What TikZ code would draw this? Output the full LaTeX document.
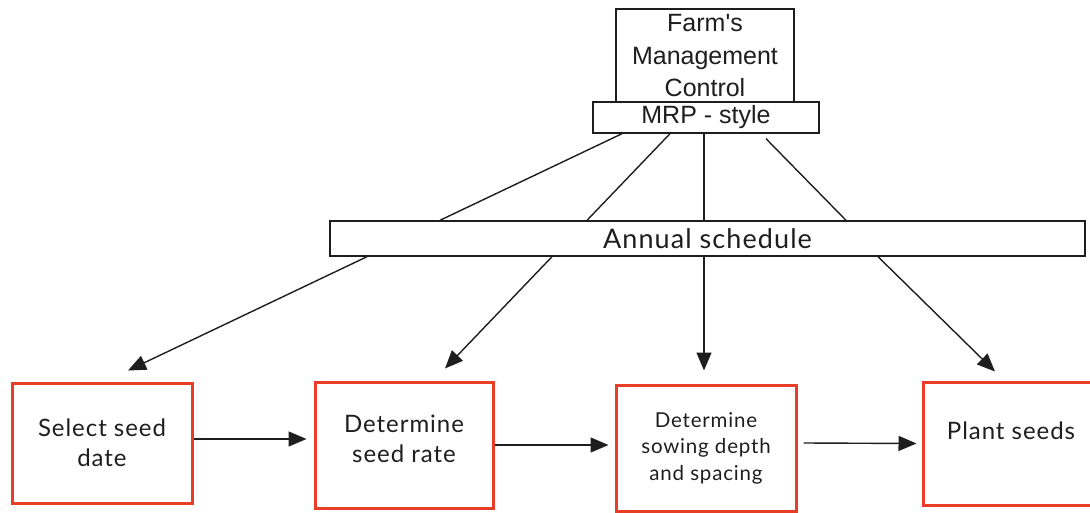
\documentclass[tikz,border=0pt]{standalone}
\usepackage{fontspec}
\newfontfamily\headfont{Liberation Sans}
\newfontfamily\boxfont{Lato}[LetterSpace=4]
\usetikzlibrary{arrows.meta}
\definecolor{boxred}{RGB}{232,62,40}
\definecolor{ink}{RGB}{30,30,30}
\tikzset{
  plainbox/.style={draw=ink, line width=1.4pt, fill=white, inner sep=0pt, align=center, text=ink},
  stepbox/.style={draw=boxred, line width=3pt, inner sep=0pt, align=center, text=ink,
    font=\boxfont\fontsize{24}{30.5}\selectfont},
  steptext/.style={text=ink, align=center, inner sep=0pt, font=\boxfont\fontsize{24}{30.5}\selectfont},
  link/.style={draw=ink, line width=1.4pt},
  flow/.style={link, -{Triangle[length=18pt,width=15pt]}}
}
\begin{document}
\begin{tikzpicture}[x=1pt,y=-1pt]
\useasboundingbox (0,0) rectangle (1090,513);
% management levels
\node[plainbox, minimum width=178pt, minimum height=94pt,
  font=\headfont\fontsize{25}{32.5}\selectfont] (farm) at (705,56) {Farm's\\Management\\Control};
\node[plainbox, minimum width=226pt, minimum height=31pt,
  font=\headfont\fontsize{25}{28}\selectfont] (mrp) at (706,117.5) {MRP - style};
\node[plainbox, minimum width=755pt, minimum height=35pt,
  font=\boxfont\fontsize{27}{30}\selectfont] (annual) at (707.5,238.5) {Annual schedule};
% operations
\node[stepbox, minimum width=180pt, minimum height=120pt] (sel) at (102,443) {Select seed\\date};
\node[stepbox, minimum width=178pt, minimum height=126pt] (rate) at (404,445) {};
\node[steptext] (ratelbl) at ([yshift=6pt]rate.center) {Determine\\seed rate};
\node[stepbox, minimum width=180pt, minimum height=126pt,
  font=\boxfont\fontsize{20.5}{26.5}\selectfont] (sow) at (706,448) {Determine\\sowing depth\\and spacing};
\node[stepbox, minimum width=170pt, minimum height=123pt] (plant) at (1008,443.5) {};
\node[steptext] (plantlbl) at (1011,431) {Plant seeds};
% MRP to annual schedule
\draw[link] ([xshift=-84pt]mrp.south) -- ([xshift=-267.5pt]annual.north);
\draw[link] ([xshift=-36pt]mrp.south) -- ([xshift=-120.5pt]annual.north);
\draw[link] ([xshift=-2pt]mrp.south) -- ([xshift=-3.5pt]annual.north);
\draw[link] ([xshift=60pt,yshift=-5pt]mrp.south) -- ([xshift=138.5pt]annual.north);
% annual schedule to operations
\draw[flow] ([xshift=-340.5pt]annual.south) -- ([xshift=26pt,yshift=11pt]sel.north);
\draw[flow] ([xshift=-155.5pt]annual.south) -- ([xshift=41pt,yshift=12pt]rate.north);
\draw[flow] ([xshift=-3.5pt]annual.south) -- ([xshift=-2pt,yshift=13pt]sow.north);
\draw[flow] ([xshift=170.5pt]annual.south) -- ([xshift=-13pt,yshift=9pt]plant.north);
% sequence of operations
\draw[flow] ([yshift=4pt]sel.east) -- ([xshift=-7pt,yshift=6pt]rate.west);
\draw[flow] (rate.east) -- ([xshift=-6pt,yshift=3pt]sow.west);
\draw[flow] ([xshift=6pt,yshift=5pt]sow.east) -- ([xshift=-5pt,yshift=0pt]plant.west);
\end{tikzpicture}
\end{document}
